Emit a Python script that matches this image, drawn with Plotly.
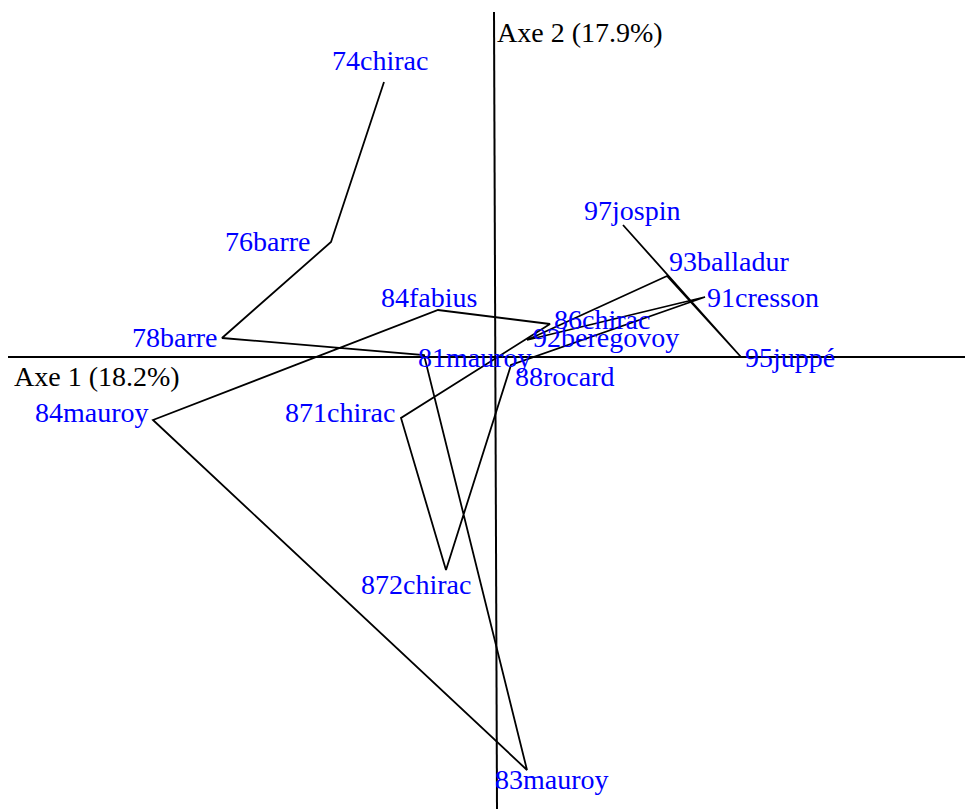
import plotly.graph_objects as go

# Correspondence-analysis coordinates (Axe 1, Axe 2), in chronological order
labels = ["74chirac", "76barre", "78barre", "81mauroy", "83mauroy", "84mauroy",
          "84fabius", "86chirac", "871chirac", "872chirac", "88rocard",
          "91cresson", "92beregovoy", "93balladur", "95juppé", "97jospin"]
axe1 = [-0.555, -0.82, -1.365, -0.355, 0.16, -1.71,
        -0.285, 0.275, -0.47, -0.245, 0.08,
        1.05, 0.16, 0.86, 1.23, 0.64]
axe2 = [1.375, 0.575, 0.095, 0.01, -2.065, -0.315,
        0.235, 0.165, -0.305, -1.065, -0.04,
        0.30, 0.085, 0.405, 0.0, 0.66]
axis_titles = ["Axe 1 (18.2%)", "Axe 2 (17.9%)"]

# label offsets in pixels (dx right, dy up) -- layout only
label_offsets = {
    "74chirac": (-4, 22), "76barre": (-63, 1), "78barre": (-47, 1),
    "81mauroy": (51, -2), "83mauroy": (25, -9), "84mauroy": (-61, 8),
    "84fabius": (-9, 13), "86chirac": (52, 5), "871chirac": (-61, 6),
    "872chirac": (-30, -14), "88rocard": (54, -11), "91cresson": (58, 0),
    "92beregovoy": (79, 3), "93balladur": (62, 15), "95juppé": (49, 0),
    "97jospin": (9, 15),
}

W, H = 965, 801
x_range = [-2.435, 2.39]
y_range = [-2.26, 1.745]
font = "Liberation Serif, Times New Roman, serif"

fig = go.Figure()
# axes
fig.add_trace(go.Scatter(x=[x_range[0], x_range[1]], y=[0, 0], mode="lines",
                         line=dict(color="black", width=2), hoverinfo="skip"))
fig.add_trace(go.Scatter(x=[-0.005, 0.01], y=[1.725, y_range[0]], mode="lines",
                         line=dict(color="black", width=2), hoverinfo="skip"))
# path
fig.add_trace(go.Scatter(x=axe1, y=axe2, mode="lines",
                         line=dict(color="black", width=1.8), hoverinfo="skip"))

for lab, xv, yv in zip(labels, axe1, axe2):
    dx, dy = label_offsets[lab]
    fig.add_annotation(x=xv, y=yv, text=lab, showarrow=False, xshift=dx, yshift=dy,
                       xanchor="center", yanchor="middle",
                       font=dict(family=font, size=28, color="#0000FF"))

fig.add_annotation(x=x_range[0], y=0, text=axis_titles[0], showarrow=False,
                   xanchor="left", yanchor="middle", xshift=4, yshift=-19,
                   font=dict(family=font, size=28, color="black"))
fig.add_annotation(x=0, y=1.725, text=axis_titles[1], showarrow=False,
                   xanchor="left", yanchor="middle", xshift=0, yshift=-20,
                   font=dict(family=font, size=28, color="black"))

fig.update_layout(
    width=W, height=H, margin=dict(l=0, r=0, t=0, b=0),
    paper_bgcolor="white", plot_bgcolor="white", showlegend=False,
    xaxis=dict(range=x_range, visible=False, fixedrange=True),
    yaxis=dict(range=y_range, visible=False, fixedrange=True),
)
fig.write_html("out.html")
